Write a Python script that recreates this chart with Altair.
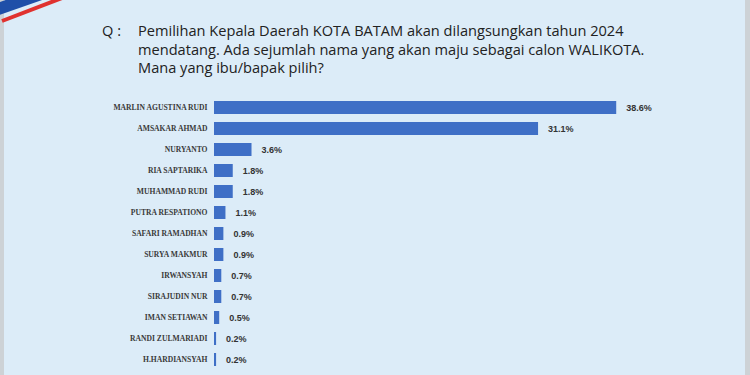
import altair as alt
import pandas as pd

names = ["MARLIN AGUSTINA RUDI", "AMSAKAR AHMAD", "NURYANTO", "RIA SAPTARIKA",
         "MUHAMMAD RUDI", "PUTRA RESPATIONO", "SAFARI RAMADHAN", "SURYA MAKMUR",
         "IRWANSYAH", "SIRAJUDIN NUR", "IMAN SETIAWAN", "RANDI ZULMARIADI",
         "H.HARDIANSYAH"]
values = [38.6, 31.1, 3.6, 1.8, 1.8, 1.1, 0.9, 0.9, 0.7, 0.7, 0.5, 0.2, 0.2]
title_lines = ["Pemilihan Kepala Daerah KOTA BATAM akan dilangsungkan tahun 2024",
               "mendatang. Ada sejumlah nama yang akan maju sebagai calon WALIKOTA.",
               "Mana yang ibu/bapak pilih?"]
q_label = "Q :"

df = pd.DataFrame({"name": names, "value": values})
df["label"] = [f"{v:.1f}%" for v in values]

y = alt.Y("name:N", sort=names,
          scale=alt.Scale(paddingInner=0.38, paddingOuter=0.19),
          axis=alt.Axis(title=None, domain=False, ticks=False, labelPadding=7,
                        labelFont="Liberation Serif", labelFontSize=7.6,
                        labelFontWeight="bold", labelColor="#3a3a3a"))
x = alt.X("value:Q", scale=alt.Scale(domain=[0, 50]), axis=None)

bars = alt.Chart(df).mark_bar(color="#3f6fc6").encode(x=x, y=y)
text = alt.Chart(df).mark_text(align="left", dx=10, font="Liberation Sans",
                               fontSize=9, fontWeight="bold", color="#333333").encode(
    x=x, y=y, text="label:N")

title_style = dict(align="left", baseline="middle", font="Open Sans",
                   fontSize=14.6, color="#222222")
base = alt.Chart(pd.DataFrame({"d": [0]}))
q = base.mark_text(**title_style).encode(
    x=alt.value(-112), y=alt.value(-65), text=alt.value(q_label))
tl = [base.mark_text(**title_style).encode(
          x=alt.value(-76), y=alt.value(-65 + 18.5 * i), text=alt.value(t))
      for i, t in enumerate(title_lines)]

# decorative slide frame: side strips and corner ribbon
left_strip = base.mark_rect(color="#cdd2d6").encode(
    x=alt.value(-214), x2=alt.value(-210), y=alt.value(-97), y2=alt.value(278))
right_strip = base.mark_rect(color="#cdd2d6").encode(
    x=alt.value(531), x2=alt.value(536), y=alt.value(-97), y2=alt.value(278))
ribbon_blue = base.mark_rule(color="#1f4fa8", strokeWidth=12).encode(
    x=alt.value(-216), x2=alt.value(-170), y=alt.value(-88), y2=alt.value(-104))
ribbon_red = base.mark_rule(color="#e0322f", strokeWidth=4).encode(
    x=alt.value(-212), x2=alt.value(-152), y=alt.value(-76), y2=alt.value(-99))

chart = alt.layer(left_strip, right_strip, ribbon_blue, ribbon_red,
                  bars, text, q, *tl).properties(
    width=521, height=273,
    padding={"left": 214, "top": 97, "right": 15, "bottom": 5},
    autosize=alt.AutoSizeParams(type="none"),
    background="#dcecf8",
).configure_view(stroke=None)

chart.save("out.html", embed_options={"renderer": "svg", "actions": False})
